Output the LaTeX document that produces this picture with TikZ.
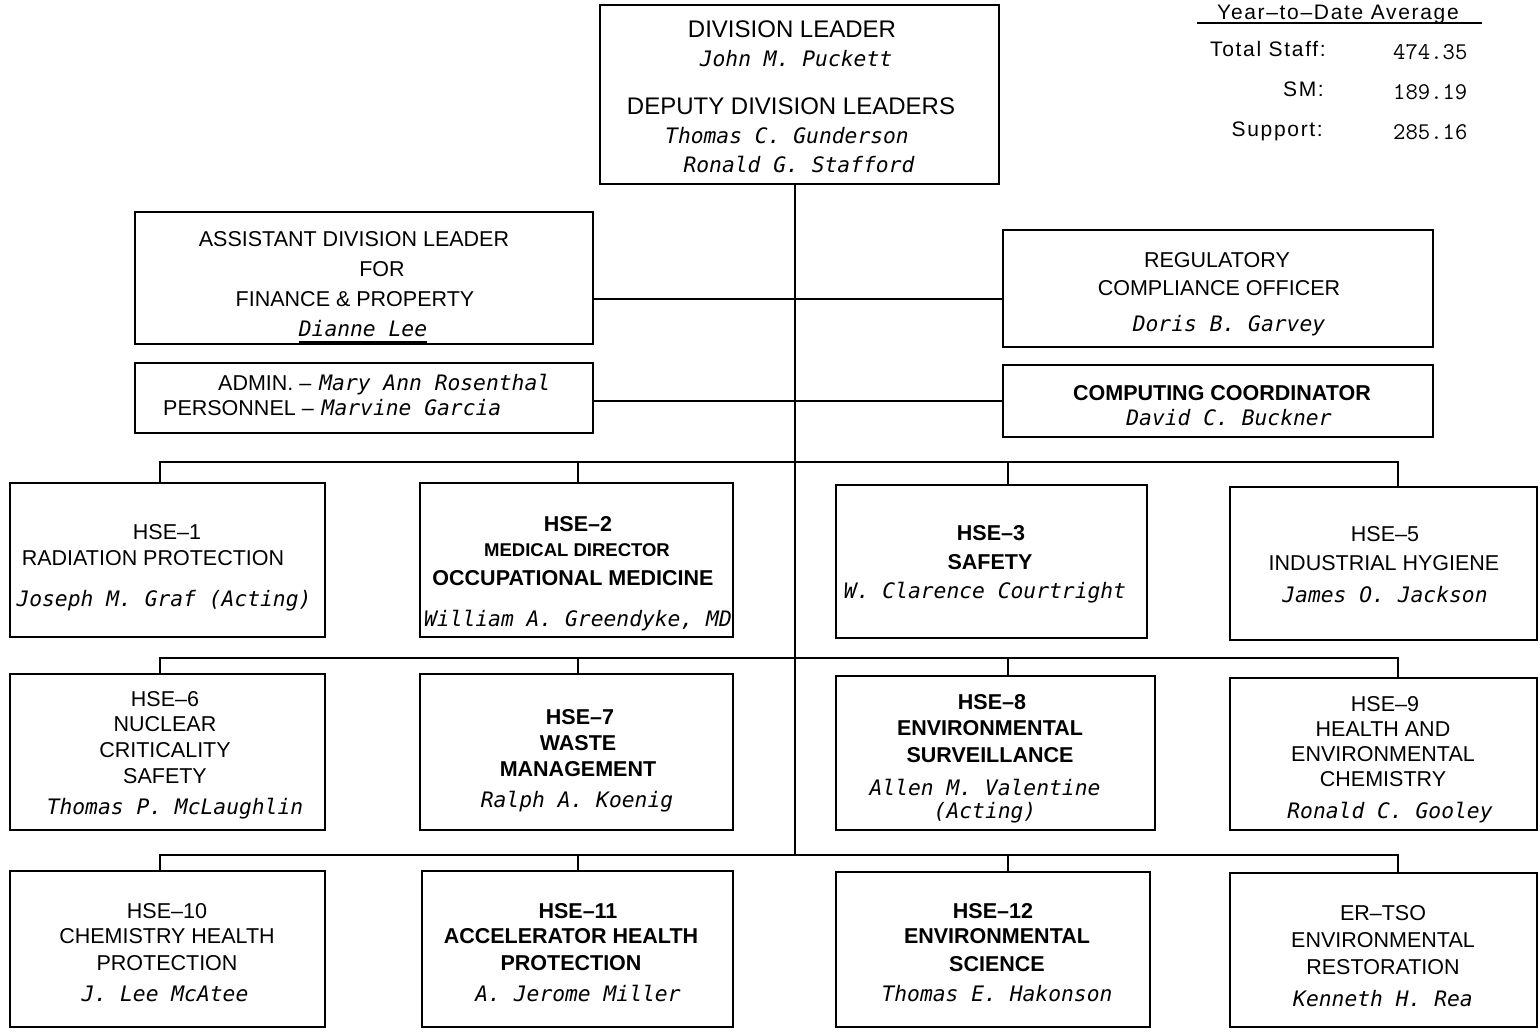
\documentclass[tikz,border=0pt]{standalone}
\usepackage{fontspec}
\setmainfont{Liberation Sans}
\newfontfamily\namefont{DejaVu Sans Mono}
\newfontfamily\statfont{Liberation Sans}[LetterSpace=8]
\usetikzlibrary{calc}

\tikzset{
  unit/.style={draw, line width=2.7pt, inner sep=0pt},
  ttl/.style={anchor=base, inner sep=0pt, font=\fontsize{21.5}{26}\selectfont},
  ttlb/.style={anchor=base, inner sep=0pt, font=\fontsize{21.5}{26}\selectfont\bfseries},
  ttls/.style={anchor=base, inner sep=0pt, font=\fontsize{18.5}{22}\selectfont\bfseries},
  head/.style={anchor=base, inner sep=0pt, font=\fontsize{24}{28}\selectfont},
  who/.style={anchor=base, inner sep=0pt, font=\namefont\itshape\fontsize{21.3}{26}\selectfont},
  stat/.style={anchor=base east, inner sep=0pt, font=\statfont\fontsize{21}{25}\selectfont},
  num/.style={anchor=base west, inner sep=0pt, font=\ttfamily\fontsize{24}{28}\selectfont},
  wire/.style={line width=2.2pt},
}

% box from its corners: name, x1, y1, x2, y2
\newcommand\unitbox[5]{\node[unit, minimum width={(#4-#2)*1pt}, minimum height={(#5-#3)*1pt}] (#1) at ({(#2+#4)/2},{(#3+#5)/2}) {};}

\begin{document}
\begin{tikzpicture}[x=1pt,y=-1pt]
\useasboundingbox (0,0) rectangle (1540,1032);

% ---- boxes ----
\unitbox{dl}{600}{5}{999}{184}
\unitbox{asst}{135}{212}{593}{344}
\unitbox{admin}{135}{363}{593}{433}
\unitbox{reg}{1003}{230}{1433}{347}
\unitbox{comp}{1003}{365}{1433}{437}
\unitbox{hse1}{10}{483}{325}{637}
\unitbox{hse2}{420}{483}{733}{637}
\unitbox{hse3}{836}{485}{1147}{638}
\unitbox{hse5}{1230}{487}{1537}{640}
\unitbox{hse6}{10}{674}{325}{830}
\unitbox{hse7}{420}{674}{733}{830}
\unitbox{hse8}{836}{676}{1155}{830}
\unitbox{hse9}{1230}{678}{1537}{830}
\unitbox{hse10}{10}{871}{325}{1027}
\unitbox{hse11}{422}{871}{733}{1027}
\unitbox{hse12}{836}{872}{1150}{1027}
\unitbox{ertso}{1230}{873}{1537}{1027}

% ---- connectors ----
\coordinate (t3) at (795,855);
\draw[wire] (dl.south -| t3) -- (t3);
\coordinate (h1) at (795,299);
\draw[wire] (asst.east |- h1) -- (reg.west |- h1);
\coordinate (h2) at (795,401);
\draw[wire] (admin.east |- h2) -- (comp.west |- h2);

\coordinate (r1a) at (160,462); \coordinate (r1b) at (578,462);
\coordinate (r1c) at (1008,462); \coordinate (r1d) at (1398,462);
\draw[wire] (r1a |- hse1.north) -- (r1a) -- (r1d) -- (r1d |- hse5.north);
\draw[wire] (r1b) -- (r1b |- hse2.north);
\draw[wire] (r1c) -- (r1c |- hse3.north);

\coordinate (r2a) at (160,658); \coordinate (r2b) at (578,658);
\coordinate (r2c) at (1008,658); \coordinate (r2d) at (1398,658);
\draw[wire] (r2a |- hse6.north) -- (r2a) -- (r2d) -- (r2d |- hse9.north);
\draw[wire] (r2b) -- (r2b |- hse7.north);
\draw[wire] (r2c) -- (r2c |- hse8.north);

\coordinate (r3a) at (160,855); \coordinate (r3b) at (578,855);
\coordinate (r3c) at (1008,855); \coordinate (r3d) at (1398,855);
\draw[wire] (r3a |- hse10.north) -- (r3a) -- (r3d) -- (r3d |- ertso.north);
\draw[wire] (r3b) -- (r3b |- hse11.north);
\draw[wire] (r3c) -- (r3c |- hse12.north);

% ---- division office ----
\node[head] (dl1) at (792,38) {DIVISION LEADER};
\node[who]  (dl2) at (796,67) {John M. Puckett};
\node[head] (dl3) at (791,115) {DEPUTY DIVISION LEADERS};
\node[who]  (dl4) at (787,144) {Thomas C. Gunderson};
\node[who]  (dl5) at (799,173) {Ronald G. Stafford};

% ---- staffing summary ----
\node[anchor=base, inner sep=0pt, font=\statfont\fontsize{21}{25}\selectfont] (st0) at (1338,20) {Year–to–Date Average};
\draw[line width=1.5pt] ($(st0.base)+(-141,3)$) -- ($(st0.base)+(144,3)$);
\node[stat] (st1) at (1326,57) {Total Staff:};
\node[num]  (sv1) at (1393,60) {474.35};
\node[stat] (st2) at (1324,97) {SM:};
\node[num]  (sv2) at (1393,100) {189.19};
\node[stat] (st3) at (1323,137) {Support:};
\node[num]  (sv3) at (1393,140) {285.16};

% ---- staff offices ----
\node[ttl] (a1) at (354,247) {ASSISTANT DIVISION LEADER};
\node[ttl] (a2) at (382,277) {FOR};
\node[ttl] (a3) at (355,307) {FINANCE \& PROPERTY};
\node[who] (a4) at (363,337) {Dianne Lee};
\draw[line width=1.5pt] ($(a4.base west)+(0,5)$) -- ($(a4.base east)+(0,5)$);

\node[ttl, anchor=base west] (ad1) at (218,390) {ADMIN. – \hspace{2pt}{\namefont\itshape\fontsize{21.3}{26}\selectfont Mary Ann Rosenthal}};
\node[ttl, anchor=base west] (ad2) at (163,415) {PERSONNEL – \hspace{2pt}{\namefont\itshape\fontsize{21.3}{26}\selectfont Marvine Garcia}};

\node[ttl] (rg1) at (1217,268) {REGULATORY};
\node[ttl] (rg2) at (1219,296) {COMPLIANCE OFFICER};
\node[who] (rg3) at (1229,332) {Doris B. Garvey};

\node[ttlb] (cc1) at (1222,400) {COMPUTING COORDINATOR};
\node[who]  (cc2) at (1229,425) {David C. Buckner};

% ---- groups, first row ----
\node[ttl] (g1a) at (167,539) {HSE–1};
\node[ttl] (g1b) at (153,565) {RADIATION PROTECTION};
\node[who] (g1c) at (164,606) {Joseph M. Graf (Acting)};

\node[ttlb] (g2a) at (578,531) {HSE–2};
\node[ttls] (g2b) at (577,556) {MEDICAL DIRECTOR};
\node[ttlb] (g2c) at (573,585) {OCCUPATIONAL MEDICINE};
\node[who]  (g2d) at (578,626) {William A. Greendyke, MD};

\node[ttlb] (g3a) at (991,540) {HSE–3};
\node[ttlb] (g3b) at (990,569) {SAFETY};
\node[who]  (g3c) at (985,598) {W. Clarence Courtright};

\node[ttl] (g5a) at (1385,541) {HSE–5};
\node[ttl] (g5b) at (1384,570) {INDUSTRIAL HYGIENE};
\node[who] (g5c) at (1385,602) {James O. Jackson};

% ---- groups, second row ----
\node[ttl] (g6a) at (165,706) {HSE–6};
\node[ttl] (g6b) at (165,731) {NUCLEAR};
\node[ttl] (g6c) at (165,757) {CRITICALITY};
\node[ttl] (g6d) at (165,783) {SAFETY};
\node[who] (g6e) at (175,814) {Thomas P. McLaughlin};

\node[ttlb] (g7a) at (580,724) {HSE–7};
\node[ttlb] (g7b) at (578,750) {WASTE};
\node[ttlb] (g7c) at (578,776) {MANAGEMENT};
\node[who]  (g7d) at (577,807) {Ralph A. Koenig};

\node[ttlb] (g8a) at (992,709) {HSE–8};
\node[ttlb] (g8b) at (990,735) {ENVIRONMENTAL};
\node[ttlb] (g8c) at (990,762) {SURVEILLANCE};
\node[who]  (g8d) at (985,795) {Allen M. Valentine};
\node[who]  (g8e) at (985,818) {(Acting)};

\node[ttl] (g9a) at (1385,711) {HSE–9};
\node[ttl] (g9b) at (1383,736) {HEALTH AND};
\node[ttl] (g9c) at (1383,761) {ENVIRONMENTAL};
\node[ttl] (g9d) at (1383,786) {CHEMISTRY};
\node[who] (g9e) at (1390,818) {Ronald C. Gooley};

% ---- groups, third row ----
\node[ttl] (g10a) at (167,918) {HSE–10};
\node[ttl] (g10b) at (167,943) {CHEMISTRY HEALTH};
\node[ttl] (g10c) at (167,970) {PROTECTION};
\node[who] (g10d) at (165,1001) {J. Lee McAtee};

\node[ttlb] (g11a) at (578,918) {HSE–11};
\node[ttlb] (g11b) at (571,943) {ACCELERATOR HEALTH};
\node[ttlb] (g11c) at (571,970) {PROTECTION};
\node[who]  (g11d) at (578,1001) {A. Jerome Miller};

\node[ttlb] (g12a) at (993,918) {HSE–12};
\node[ttlb] (g12b) at (997,943) {ENVIRONMENTAL};
\node[ttlb] (g12c) at (997,971) {SCIENCE};
\node[who]  (g12d) at (997,1001) {Thomas E. Hakonson};

\node[ttl] (g13a) at (1383,920) {ER–TSO};
\node[ttl] (g13b) at (1383,947) {ENVIRONMENTAL};
\node[ttl] (g13c) at (1383,974) {RESTORATION};
\node[who] (g13d) at (1383,1006) {Kenneth H. Rea};
\end{tikzpicture}
\end{document}
